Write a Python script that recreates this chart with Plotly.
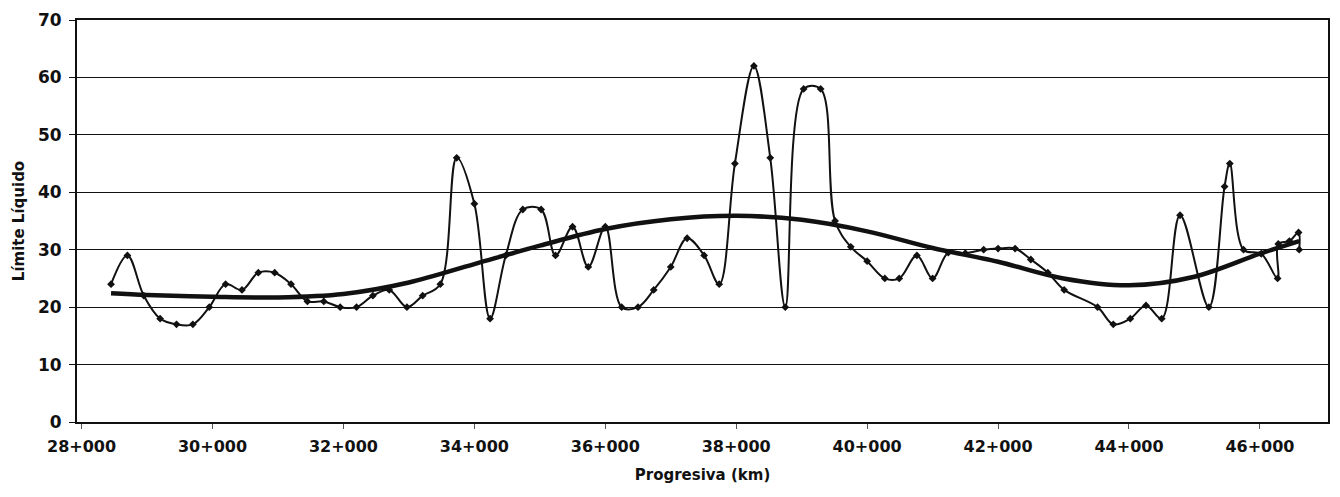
import plotly.graph_objects as go

# Measured data (km, Límite Líquido)
km = [28.45, 28.7, 28.95, 29.2, 29.45, 29.7, 29.95, 30.2, 30.45, 30.7, 30.95, 31.2,
      31.45, 31.7, 31.95, 32.2, 32.45, 32.7, 32.97, 33.21, 33.48, 33.73, 34.0, 34.24,
      34.48, 34.74, 35.02, 35.24, 35.5, 35.74, 36.0, 36.25, 36.5, 36.74, 37.0, 37.25,
      37.51, 37.74, 37.98, 38.27, 38.52, 38.75, 39.03, 39.29, 39.51, 39.75, 40.0, 40.27,
      40.49, 40.76, 41.0, 41.24, 41.5, 41.78, 42.0, 42.26, 42.5, 42.76, 43.01, 43.52,
      43.76, 44.02, 44.26, 44.5, 44.78, 45.22, 45.46, 45.54, 45.75, 46.02, 46.27, 46.28,
      46.45, 46.59, 46.6]
ll = [24, 29, 22, 18, 17, 17, 20, 24, 23, 26, 26, 24,
      21, 21, 20, 20, 22, 23, 20, 22, 24, 46, 38, 18,
      29, 37, 37, 29, 34, 27, 34, 20, 20, 23, 27, 32,
      29, 24, 45, 62, 46, 20, 58, 58, 35, 30.5, 28, 25,
      25, 29, 25, 29.5, 29.4, 30, 30.2, 30.2, 28.3, 26, 23, 20,
      17, 18, 20.3, 18, 36, 20, 41, 45, 30, 29.3, 25, 31,
      31.5, 33, 30]

# Trend line
trend_km = [28.45, 29, 30, 31, 32, 33, 34, 35, 36, 37, 38, 39, 40, 41, 42, 43, 44, 45, 46, 46.6]
trend_ll = [22.4, 22.1, 21.8, 21.7, 22.3, 24.3, 27.5, 30.7, 33.6, 35.3, 35.9, 35.2, 33.2,
            30.3, 27.9, 25.0, 23.8, 25.3, 29.3, 31.5]

tick_vals = [28, 30, 32, 34, 36, 38, 40, 42, 44, 46]
tick_text = ["28+000", "30+000", "32+000", "34+000", "36+000", "38+000", "40+000",
             "42+000", "44+000", "46+000"]

FONT = "DejaVu Sans"

fig = go.Figure()
fig.add_trace(go.Scatter(
    x=km, y=ll, mode="lines+markers",
    line=dict(color="#111111", width=2, shape="spline", smoothing=1.0),
    marker=dict(symbol="diamond", size=6, color="#111111"),
    showlegend=False, hoverinfo="x+y"))
fig.add_trace(go.Scatter(
    x=trend_km, y=trend_ll, mode="lines",
    line=dict(color="#111111", width=4.5, shape="spline", smoothing=1.0),
    showlegend=False, hoverinfo="skip"))

fig.update_layout(
    width=1340, height=497,
    margin=dict(l=77, r=10, t=18, b=75),
    paper_bgcolor="white", plot_bgcolor="white",
    font=dict(family=FONT, color="#111111"),
    xaxis=dict(
        range=[27.93, 47.04], tickmode="array", tickvals=tick_vals, ticktext=tick_text,
        tickfont=dict(family=FONT, size=16, color="#111111", weight="bold"),
        ticks="outside", ticklen=5, tickcolor="#555", tickwidth=1,
        showgrid=False, zeroline=False,
        showline=True, linecolor="#111111", linewidth=2, mirror=True,
        ticklabelstandoff=4,
        title=dict(text="<b>Progresiva (km)</b>", font=dict(family=FONT, size=15, color="#111111"),
                   standoff=14),
    ),
    yaxis=dict(
        range=[0, 70], tickmode="array", tickvals=[0, 10, 20, 30, 40, 50, 60, 70],
        tickfont=dict(family=FONT, size=17, color="#111111", weight="bold"),
        ticks="outside", ticklen=6, tickcolor="#111111", tickwidth=1,
        showgrid=True, gridcolor="#111111", gridwidth=1, zeroline=False,
        showline=True, linecolor="#111111", linewidth=2, mirror=True,
        ticklabelstandoff=4,
        title=dict(text="<b>Límite Líquido</b>", font=dict(family=FONT, size=15, color="#111111"),
                   standoff=10),
    ),
)

fig.write_html("out.html")
